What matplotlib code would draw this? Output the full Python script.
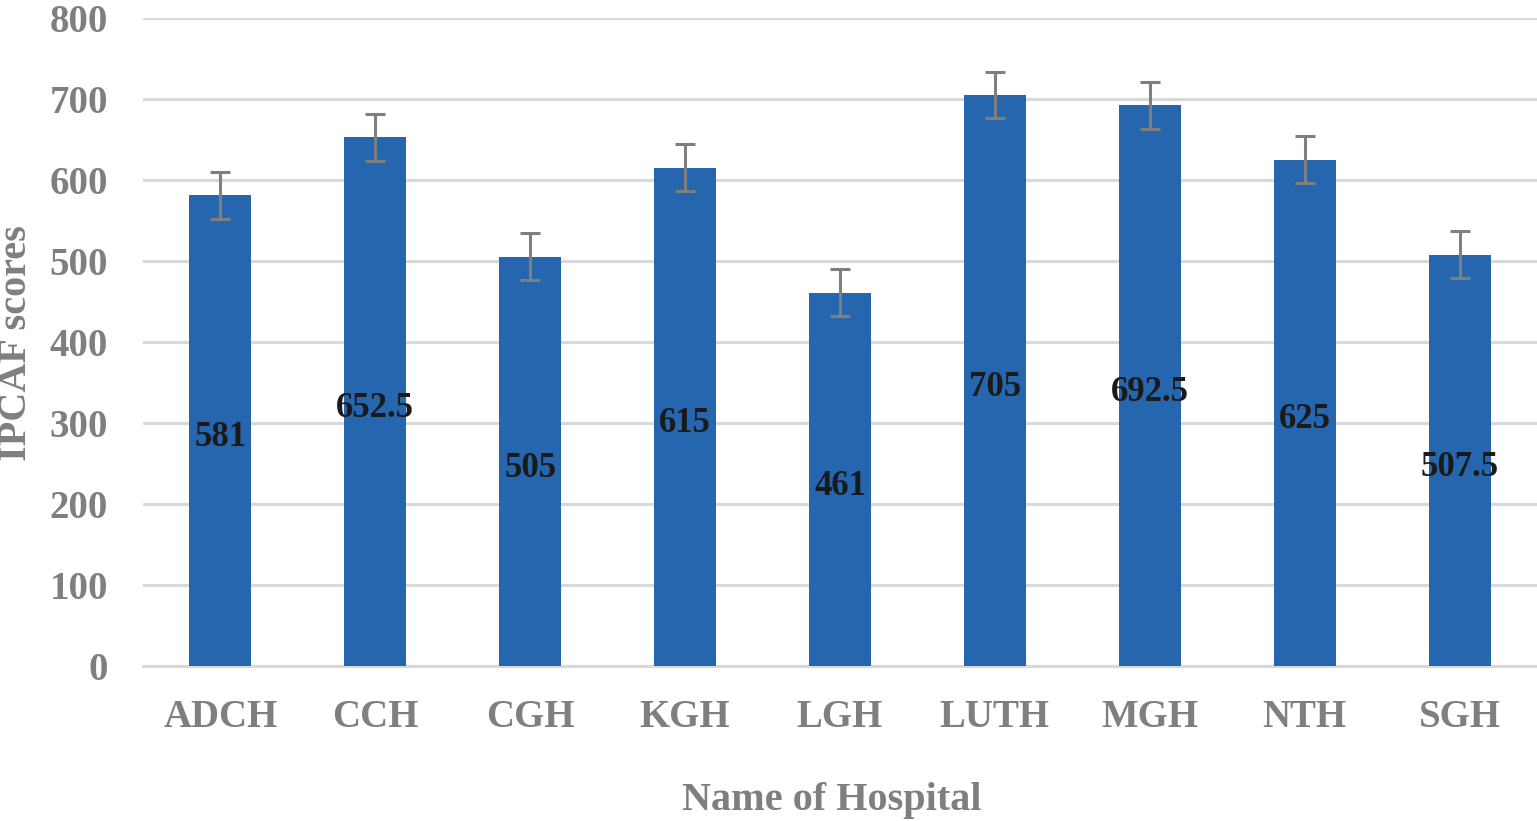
import matplotlib.pyplot as plt

hospitals = ["ADCH", "CCH", "CGH", "KGH", "LGH", "LUTH", "MGH", "NTH", "SGH"]
scores = [581, 652.5, 505, 615, 461, 705, 692.5, 625, 507.5]
errors = [29, 29, 29, 29, 29, 29, 29, 29, 29]
labels = ["581", "652.5", "505", "615", "461", "705", "692.5", "625", "507.5"]

plt.rcParams["font.family"] = ["Liberation Serif", "DejaVu Serif"]
plt.rcParams["font.weight"] = "bold"

fig = plt.figure(figsize=(15.37, 8.21), dpi=100)
ax = fig.add_axes([0.093, 0.189, 0.907, 0.789])

x = range(len(hospitals))
ax.bar(x, scores, width=0.4, color="#2566AF", zorder=3)
ax.errorbar(x, scores, yerr=errors, fmt="none", ecolor="#7F7F7F",
            elinewidth=2.2, capsize=7.5, capthick=2.2, zorder=4)

# value labels sit in the middle of each bar
for i, v in enumerate(scores):
    ax.annotate(labels[i], (i, v / 2), xytext=(0, -5), textcoords="offset points",
                ha="center", va="center", fontsize=25, fontweight="bold",
                color="#1A1A1A", zorder=5)

ax.set_xlim(-0.5, len(hospitals) - 0.5)
ax.set_ylim(0, 800)
ax.set_yticks(range(0, 801, 100))
ax.set_xticks(list(x))
ax.set_xticklabels(hospitals)

ax.grid(axis="y", color="#D9D9D9", linewidth=2.2, zorder=0)
ax.set_axisbelow(True)
for s in ["top", "right", "left"]:
    ax.spines[s].set_visible(False)
ax.spines["bottom"].set_color("#D9D9D9")
ax.spines["bottom"].set_linewidth(2.2)

ax.tick_params(axis="both", length=0, labelsize=28, labelcolor="#7F7F7F")
ax.tick_params(axis="y", pad=25)
ax.tick_params(axis="x", pad=24)
for t in ax.get_xticklabels() + ax.get_yticklabels():
    t.set_fontweight("bold")

fig.text(832 / 1537, 1 - 800 / 821, "Name of Hospital", ha="center", va="center",
         fontsize=29, fontweight="bold", color="#7F7F7F")
fig.text(17 / 1537, 1 - 343 / 821, "IPCAF scores", ha="center", va="center",
         rotation=90, fontsize=29, fontweight="bold", color="#7F7F7F")

fig.savefig("out.png", dpi=100)
